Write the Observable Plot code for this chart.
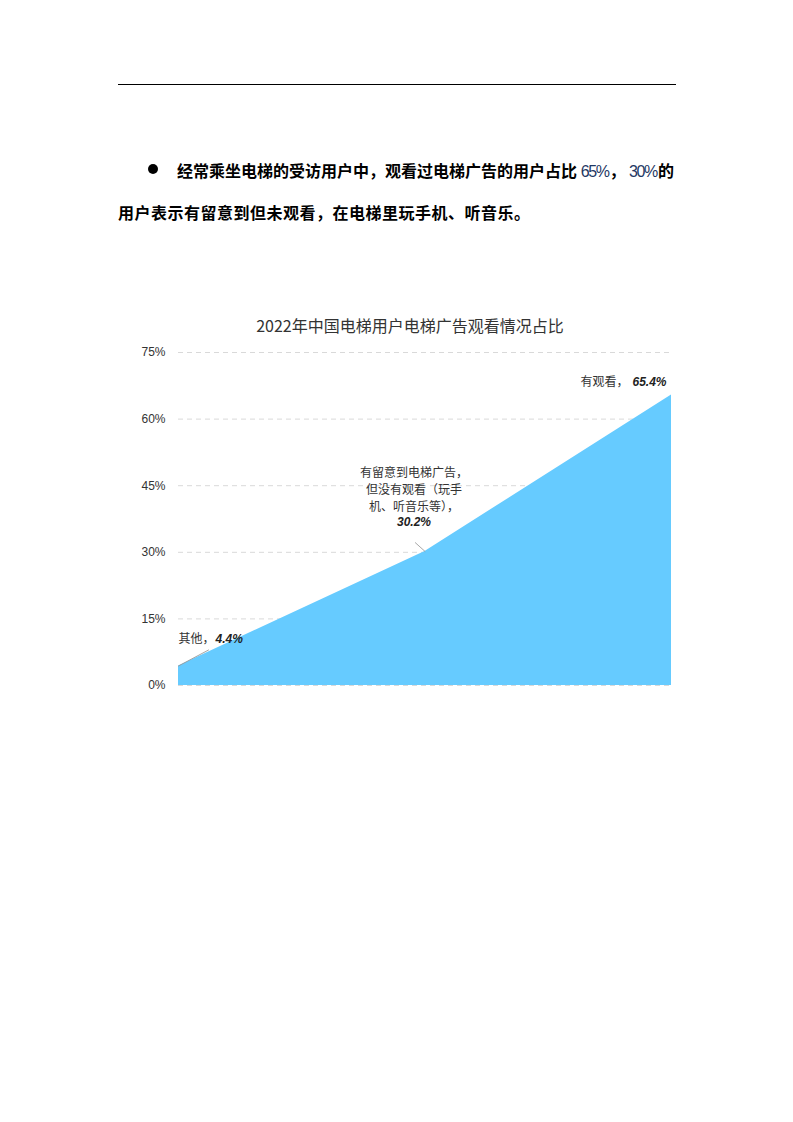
<!DOCTYPE html>
<html>
<head>
<meta charset="utf-8">
<script src="https://cdn.jsdelivr.net/npm/d3@7"></script>
<script src="https://cdn.jsdelivr.net/npm/@observablehq/plot@0.6"></script>
<style>
  html, body { margin: 0; padding: 0; background: #fff; }
  body { width: 793px; height: 1122px; position: relative; font-family: "Noto Sans CJK SC", sans-serif; }
  .rule { position: absolute; left: 118px; top: 84px; width: 558px; height: 0; border-top: 1.3px solid #000; }
  .para { position: absolute; font-size: 16px; font-weight: bold; color: #000; white-space: nowrap; }
  .num { font-weight: normal; color: #1f3864; font-family: "Liberation Sans", sans-serif; font-size: 16px; letter-spacing: -1.4px; margin-right: 1px; }
  .bullet { position: absolute; left: 148px; top: 164px; width: 10px; height: 10px; border-radius: 50%; background: #000; }
  .title { position: absolute; left: 130px; width: 560px; top: 313px; text-align: center; font-size: 16px; color: #333; }
  #chart { position: absolute; left: 130px; top: 340px; }
</style>
</head>
<body>
<div class="rule"></div>
<div class="bullet"></div>
<div class="para" style="left:177px; top:158px; letter-spacing:0;">经常乘坐电梯的受访用户中，观看过电梯广告的用户占比 <span class="num">65%</span>，&nbsp;<span class="num">30%</span>的</div>
<div class="para" style="left:118px; top:200px; letter-spacing:0.5px;">用户表示有留意到但未观看，在电梯里玩手机、听音乐。</div>
<div class="title">2022年中国电梯用户电梯广告观看情况占比</div>
<div id="chart"></div>
<script>
const categories = ["其他，", "有留意到电梯广告，\n但没有观看（玩手\n机、听音乐等），", "有观看，"];
const values = [4.4, 30.2, 65.4];
const valueLabels = ["4.4%", "30.2%", "65.4%"];
const yTicks = [0, 15, 30, 45, 60, 75];

const data = categories.map((c, i) => ({i, name: c, value: values[i], label: valueLabels[i]}));
const lineShape = {draw(ctx, l) { ctx.moveTo(0, 0); ctx.lineTo(0, -l); }};

const chart = Plot.plot({
  width: 560,
  height: 360,
  marginLeft: 48,
  marginRight: 19,
  marginTop: 12,
  marginBottom: 15,
  x: {domain: [0, categories.length - 1], axis: null},
  y: {domain: [0, 75], ticks: yTicks, tickFormat: d => d + "%", tickSize: 0, tickPadding: 13, label: null},
  style: {fontFamily: "'Liberation Sans', sans-serif", fontSize: "12px", color: "#333"},
  marks: [
    Plot.ruleY(yTicks, {stroke: "#d9d9d9", strokeDasharray: "5,4", strokeWidth: 1}),
    Plot.areaY(data, {x: "i", y: "value", fill: "#66cbff"}),
    Plot.vector([data[0]], {x: "i", y: "value", length: 34, rotate: 62, anchor: "start", shape: lineShape, stroke: "#999", strokeWidth: 0.8}),
    Plot.vector([data[1]], {x: "i", y: "value", length: 13, rotate: 312, anchor: "start", shape: lineShape, stroke: "#999", strokeWidth: 0.8}),
    // 其他
    Plot.text([data[0]], {x: "i", y: "value", text: "name", textAnchor: "start", dx: 0, dy: -27, fontSize: 12, fill: "#333", fontFamily: "Noto Sans CJK SC"}),
    Plot.text([data[0]], {x: "i", y: "value", text: "label", textAnchor: "start", dx: 37, dy: -27, fontSize: 12, fontWeight: "bold", fontStyle: "italic", fill: "#222", fontFamily: "Liberation Sans"}),
    // middle
    Plot.text([data[1]], {x: "i", y: "value", text: "name", textAnchor: "middle", lineAnchor: "bottom", lineHeight: 1.45, dx: -11, dy: -40, fontSize: 12, fill: "#333", fontFamily: "Noto Sans CJK SC"}),
    Plot.text([data[1]], {x: "i", y: "value", text: "label", textAnchor: "middle", dx: -11, dy: -29, fontSize: 12, fontWeight: "bold", fontStyle: "italic", fill: "#222", fontFamily: "Liberation Sans"}),
    // top
    Plot.text([data[2]], {x: "i", y: "value", text: "label", textAnchor: "end", dx: -5, dy: -13, fontSize: 12, fontWeight: "bold", fontStyle: "italic", fill: "#222", fontFamily: "Liberation Sans"}),
    Plot.text([data[2]], {x: "i", y: "value", text: "name", textAnchor: "end", dx: -43, dy: -13, fontSize: 12, fill: "#333", fontFamily: "Noto Sans CJK SC"})
  ]
});
document.getElementById("chart").appendChild(chart);
</script>
</body>
</html>
